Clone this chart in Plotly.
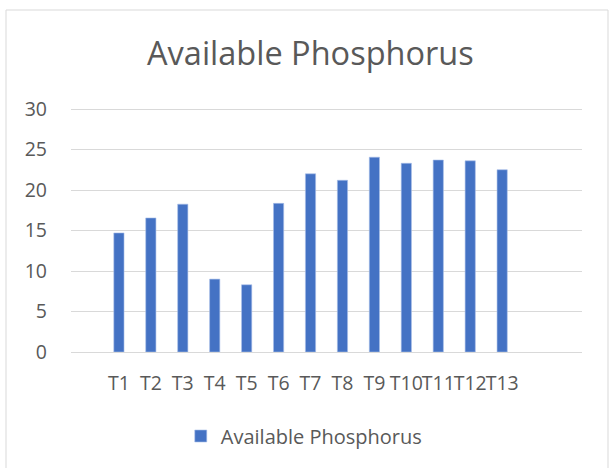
import plotly.graph_objects as go

categories = ["T1", "T2", "T3", "T4", "T5", "T6", "T7", "T8", "T9", "T10", "T11", "T12", "T13"]
values = [14.7, 16.55, 18.25, 9.0, 8.3, 18.35, 22.0, 21.2, 24.05, 23.3, 23.7, 23.6, 22.5]
series_name = "Available Phosphorus"
y_ticks = [0, 5, 10, 15, 20, 25, 30]

FONT = "Open Sans"
GRAY = "#595959"
GRID = "#d9d9d9"

fig = go.Figure()
fig.add_trace(go.Bar(
    x=categories, y=values, name=series_name,
    marker=dict(color="#4472C4", line=dict(color="#a9c0ea", width=0.6)),
    showlegend=True,
))

W, H = 611, 468
L, R, T, B = 71, 29, 100, 116
pw = W - L - R
ph = H - T - B
ymax = ph / ((H - B - 109) / 30.0)

fig.update_layout(
    width=W, height=H,
    margin=dict(l=L, r=R, t=T, b=B, autoexpand=False),
    paper_bgcolor="white", plot_bgcolor="white",
    font=dict(family=FONT, color=GRAY, size=16),
    title=dict(text=series_name, x=0.508, xanchor="center", xref="container",
               y=1 - 54 / H, yanchor="middle", yref="container",
               font=dict(family=FONT, size=32.5, color=GRAY)),
    bargap=0.68,
    showlegend=True,
    legend=dict(orientation="h", x=0.498, xanchor="center", xref="container",
                y=1 - 436 / H, yanchor="middle", yref="container",
                font=dict(family=FONT, size=20, color=GRAY),
                itemwidth=30, traceorder="normal"),
    xaxis=dict(type="category", range=[-1.5, 14.5], showgrid=False, showline=True,
               linecolor=GRID, linewidth=1, ticks="", ticklabelstandoff=14, tickangle=0,
               tickfont=dict(family=FONT, size=19.5, color=GRAY), fixedrange=True),
    yaxis=dict(range=[0, ymax], tickvals=y_ticks, showgrid=True, gridcolor=GRID, gridwidth=1,
               zeroline=False, showline=False, ticks="", ticklabelstandoff=23,
               tickfont=dict(family=FONT, size=19.5, color=GRAY), fixedrange=True),
    shapes=[dict(type="rect", xref="paper", yref="paper",
                 x0=(6 - L) / pw, x1=(608 - L) / pw,
                 y0=(H - B - 472) / ph, y1=(H - B - 10) / ph,
                 line=dict(color=GRID, width=1), fillcolor="rgba(0,0,0,0)", layer="below")],
)

fig.write_html("out.html", config={"displayModeBar": False},
               post_script="document.body.style.margin='0';")
